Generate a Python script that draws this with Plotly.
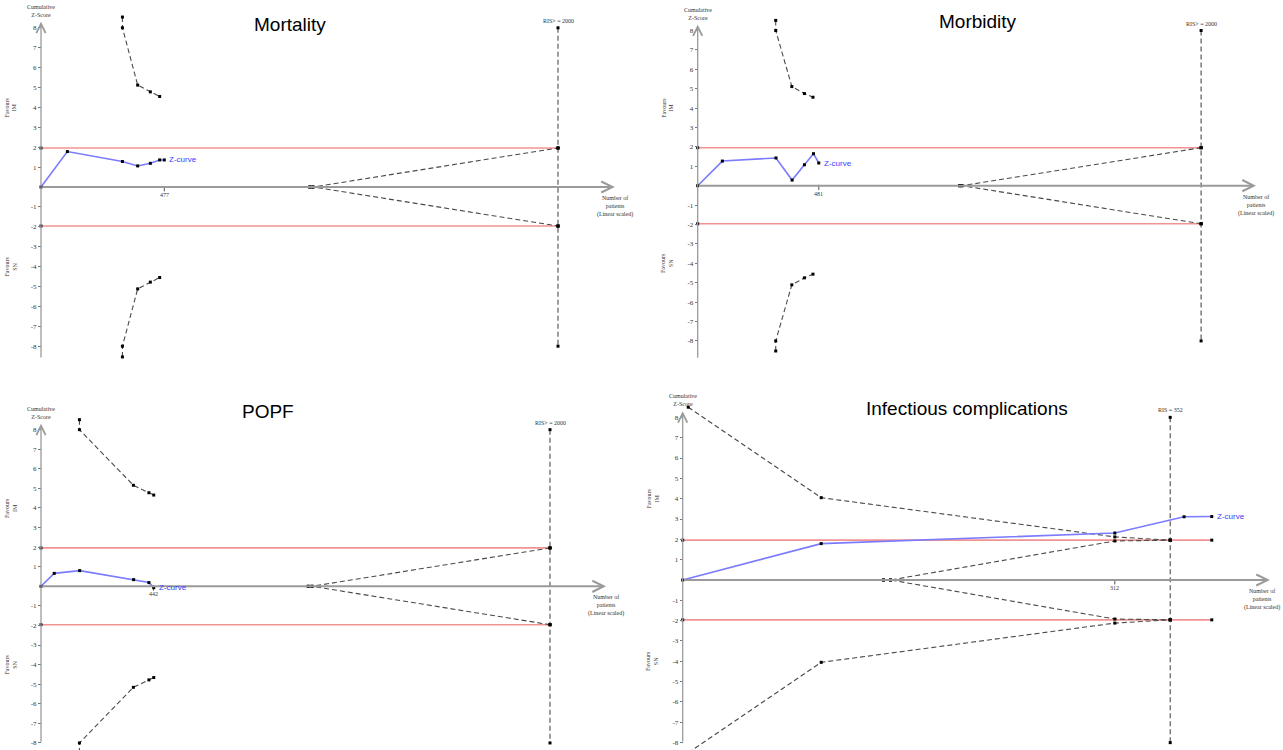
import plotly.graph_objects as go

W, H = 1283, 750

# ---------------- data ----------------
titles = ["Mortality", "Morbidity", "POPF", "Infectious complications"]
ris_labels = ["RIS> = 2000", "RIS> = 2000", "RIS> = 2000", "RIS = 352"]

# Mortality
mort_n = [0, 102, 315, 374, 423, 459, 477]
mort_z = [0, 1.78, 1.28, 1.06, 1.19, 1.36, 1.36]
mort_bnd_n = [315, 315, 374, 423, 459]
mort_bnd_up = [8.54, 8.0, 5.12, 4.78, 4.55]
mort_bnd_lo = [-8.54, -8.0, -5.12, -4.78, -4.55]
mort_fut_n = [1040, 1052, 2000]
mort_fut_up = [0, 0, 1.96]
mort_fut_lo = [0, 0, -1.96]
mort_conv_n = [0, 2000]
mort_ris = 2000
mort_tick = 477

# Morbidity
morb_n = [0, 98, 311, 375, 424, 460, 481]
morb_z = [0, 1.27, 1.43, 0.29, 1.08, 1.65, 1.17]
morb_bnd_n = [310, 310, 374, 424, 458]
morb_bnd_up = [8.52, 8.0, 5.11, 4.75, 4.56]
morb_bnd_lo = [-8.52, -8.0, -5.11, -4.75, -4.56]
morb_fut_n = [1040, 1050, 2000]
morb_fut_up = [0, 0, 1.96]
morb_fut_lo = [0, 0, -1.96]
morb_conv_n = [0, 2000]
morb_ris = 2000
morb_tick = 481

# POPF
popf_n = [0, 52, 152, 364, 424, 443]
popf_z = [0, 0.66, 0.80, 0.34, 0.19, -0.07]
popf_bnd_n = [151, 151, 363, 424, 443]
popf_bnd_up = [8.51, 8.0, 5.16, 4.78, 4.66]
popf_bnd_lo = [-8.51, -8.0, -5.16, -4.78, -4.66]
popf_fut_n = [1050, 1065, 2000]
popf_fut_up = [0, 0, 1.96]
popf_fut_lo = [0, 0, -1.96]
popf_conv_n = [0, 2000]
popf_ris = 2000
popf_tick = 442

# Infectious complications
inf_n = [0, 100, 312, 362, 382]
inf_z = [0, 1.79, 2.31, 3.11, 3.12]
inf_bnd_n = [4, 100, 312, 352]
inf_bnd_up = [8.5, 4.05, 2.12, 1.96]
inf_bnd_lo = [-8.5, -4.05, -2.12, -1.96]
inf_fut_n = [145, 150, 312, 352]
inf_fut_up = [0, 0, 1.92, 1.96]
inf_fut_lo = [0, 0, -1.92, -1.96]
inf_conv_n = [0, 352, 382]
inf_ris = 352
inf_tick = 312

conv_z = 1.96
ris_z = [8, 1.96, -1.96, -8]
ytick_vals = [8, 7, 6, 5, 4, 3, 2, 1, -1, -2, -3, -4, -5, -6, -7, -8]
ytick_text = ["8", "7", "6", "5", "4", "3", "2", "1", "-1", "-2", "-3", "-4", "-5", "-6", "-7", "-8"]

datasets = [
    dict(n=mort_n, z=mort_z, bn=mort_bnd_n, bu=mort_bnd_up, bl=mort_bnd_lo,
         fn=mort_fut_n, fu=mort_fut_up, fl=mort_fut_lo, cn=mort_conv_n, ris=mort_ris, tick=mort_tick),
    dict(n=morb_n, z=morb_z, bn=morb_bnd_n, bu=morb_bnd_up, bl=morb_bnd_lo,
         fn=morb_fut_n, fu=morb_fut_up, fl=morb_fut_lo, cn=morb_conv_n, ris=morb_ris, tick=morb_tick),
    dict(n=popf_n, z=popf_z, bn=popf_bnd_n, bu=popf_bnd_up, bl=popf_bnd_lo,
         fn=popf_fut_n, fu=popf_fut_up, fl=popf_fut_lo, cn=popf_conv_n, ris=popf_ris, tick=popf_tick),
    dict(n=inf_n, z=inf_z, bn=inf_bnd_n, bu=inf_bnd_up, bl=inf_bnd_lo,
         fn=inf_fut_n, fu=inf_fut_up, fl=inf_fut_lo, cn=inf_conv_n, ris=inf_ris, tick=inf_tick),
]

# ---------------- layout geometry (pixels) ----------------
panels = [
    dict(ox=41, sx=0.2585, oy=187, sy=19.9, box=(25, 5, 637, 366), arrow_n=2220, ytop=8.3,
         title=(290, 25), np_shift=0),
    dict(ox=697.7, sx=0.2517, oy=185.7, sy=19.4, box=(670, 5, 1283, 366), arrow_n=2218, ytop=8.3,
         title=(978, 22), np_shift=0),
    dict(ox=41, sx=0.2545, oy=586.3, sy=19.58, box=(25, 392, 637, 750), arrow_n=2220, ytop=8.3,
         title=(268, 411), np_shift=0),
    dict(ox=682.7, sx=1.385, oy=580, sy=20.33, box=(660, 392, 1283, 750), arrow_n=424, ytop=8.3,
         title=(967, 408), np_shift=-8),
]

SERIF = "Liberation Serif"
SANS = "Liberation Sans"
BLUE = "#7b7bff"
RED = "#f29393"
DARK = "#4a4a4a"
AXIS = "#9a9a9a"
TXT = "#333333"

fig = go.Figure()
annotations = []
layout_axes = {}

for i, (p, d) in enumerate(zip(panels, datasets)):
    k = "" if i == 0 else str(i + 1)
    xa, ya = "x" + k, "y" + k
    left, top, right, bottom = p["box"]
    xr = [(left - p["ox"]) / p["sx"], (right - p["ox"]) / p["sx"]]
    yr = [(p["oy"] - bottom) / p["sy"], (p["oy"] - top) / p["sy"]]
    layout_axes["xaxis" + k] = dict(domain=[left / W, right / W], range=xr, anchor=ya,
                                    visible=False, showgrid=False, zeroline=False)
    layout_axes["yaxis" + k] = dict(domain=[1 - bottom / H, 1 - top / H], range=yr, anchor="free",
                                    position=p["ox"] / W,
                                    showline=False, showgrid=False, zeroline=False,
                                    ticks="outside", ticklen=3, tickwidth=1, tickcolor="#777",
                                    tickvals=ytick_vals, ticktext=ytick_text,
                                    tickfont=dict(family=SERIF, size=7, color=TXT))

    mk = dict(symbol="square", size=3, color="black")
    # conventional boundaries (red)
    for sgn in (1, -1):
        fig.add_trace(go.Scatter(x=d["cn"], y=[sgn * conv_z] * len(d["cn"]), mode="lines+markers",
                                 line=dict(color=RED, width=1.6), marker=mk, xaxis=xa, yaxis=ya,
                                 showlegend=False, hoverinfo="skip"))
    # futility wedge
    for fz in (d["fu"], d["fl"]):
        fig.add_trace(go.Scatter(x=d["fn"], y=fz, mode="lines+markers",
                                 line=dict(color=DARK, width=1.1, dash="5px,3px"), marker=mk,
                                 xaxis=xa, yaxis=ya, showlegend=False, hoverinfo="skip"))
    # monitoring boundaries
    for bz in (d["bu"], d["bl"]):
        fig.add_trace(go.Scatter(x=d["bn"], y=bz, mode="lines+markers",
                                 line=dict(color=DARK, width=1.1, dash="5px,3px"), marker=mk,
                                 xaxis=xa, yaxis=ya, showlegend=False, hoverinfo="skip"))
    # RIS vertical
    fig.add_trace(go.Scatter(x=[d["ris"]] * len(ris_z), y=ris_z, mode="lines+markers",
                             line=dict(color=DARK, width=1.1, dash="5px,3px"), marker=mk,
                             xaxis=xa, yaxis=ya, showlegend=False, hoverinfo="skip"))
    # x tick mark
    fig.add_trace(go.Scatter(x=[d["tick"], d["tick"]], y=[0.05, -0.22], mode="lines",
                             line=dict(color="#555", width=1), xaxis=xa, yaxis=ya,
                             showlegend=False, hoverinfo="skip"))
    # Z-curve
    fig.add_trace(go.Scatter(x=d["n"], y=d["z"], mode="lines+markers",
                             line=dict(color=BLUE, width=1.6), marker=mk,
                             xaxis=xa, yaxis=ya, showlegend=False, hoverinfo="skip"))

    # axes drawn as arrows
    annotations.append(dict(x=p["arrow_n"], y=0, ax=0, ay=0, xref=xa, yref=ya, axref=xa, ayref=ya,
                            text="", showarrow=True, arrowhead=5, arrowsize=1.1, arrowwidth=2,
                            arrowcolor=AXIS, standoff=0, startstandoff=0))
    annotations.append(dict(x=0, y=p["ytop"], ax=0, ay=yr[0] + 0.35, xref=xa, yref=ya, axref=xa, ayref=ya,
                            text="", showarrow=True, arrowhead=5, arrowsize=1.4, arrowwidth=1.3,
                            arrowcolor=AXIS, standoff=0, startstandoff=0))
    # axis labels
    annotations.append(dict(x=0, y=p["ytop"], xref=xa, yref=ya, text="Cumulative<br>Z-Score",
                            showarrow=False, yanchor="bottom", yshift=2,
                            font=dict(family=SERIF, size=6, color=TXT)))
    annotations.append(dict(x=p["arrow_n"], y=0, xref=xa, yref=ya,
                            text="Number of<br>patients<br>(Linear scaled)",
                            showarrow=False, yanchor="top", yshift=-6, xshift=p["np_shift"],
                            font=dict(family=SERIF, size=6, color=TXT)))
    annotations.append(dict(x=0, y=4, xref=xa, yref=ya, text="Favours<br>IM", textangle=-90,
                            showarrow=False, xshift=-30, font=dict(family=SERIF, size=6, color=TXT)))
    annotations.append(dict(x=0, y=-4, xref=xa, yref=ya, text="Favours<br>SN", textangle=-90,
                            showarrow=False, xshift=-30, font=dict(family=SERIF, size=6, color=TXT)))
    annotations.append(dict(x=d["tick"], y=0, xref=xa, yref=ya, text=str(d["tick"]),
                            showarrow=False, yanchor="top", yshift=-3,
                            font=dict(family=SERIF, size=6, color=TXT)))
    annotations.append(dict(x=d["ris"], y=8, xref=xa, yref=ya, text=ris_labels[i],
                            showarrow=False, yanchor="bottom", yshift=2,
                            font=dict(family=SERIF, size=6, color=TXT)))
    annotations.append(dict(x=d["n"][-1], y=d["z"][-1], xref=xa, yref=ya, text="Z-curve",
                            showarrow=False, xanchor="left", xshift=3,
                            font=dict(family=SANS, size=8, color="#3a3aff")))
    # title
    annotations.append(dict(x=p["title"][0] / W, y=1 - p["title"][1] / H, xref="paper", yref="paper",
                            text=titles[i], showarrow=False, xanchor="center", yanchor="middle",
                            font=dict(family=SANS, size=19, color="black")))

fig.update_layout(width=W, height=H, margin=dict(l=0, r=0, t=0, b=0),
                  paper_bgcolor="white", plot_bgcolor="rgba(0,0,0,0)",
                  annotations=annotations, showlegend=False, **layout_axes)

fig.write_html("out.html", config={"displayModeBar": False},
               post_script="document.body.style.margin='0';")
